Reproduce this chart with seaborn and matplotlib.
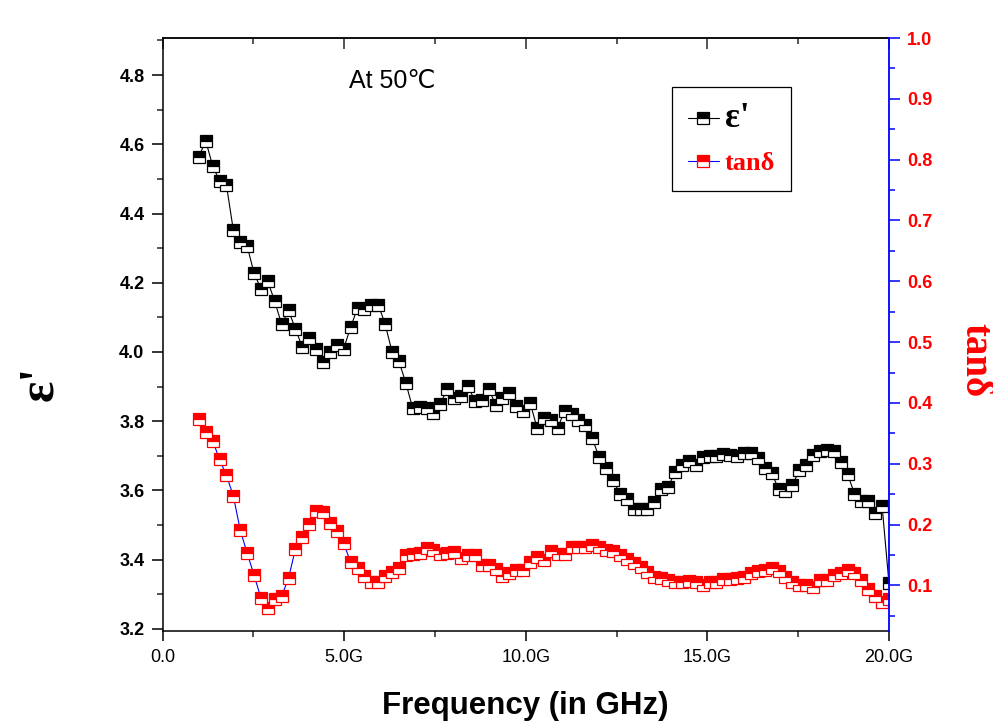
import numpy as np
import pandas as pd
import matplotlib
matplotlib.use("Agg")
import matplotlib.pyplot as plt
import seaborn as sns
from matplotlib.ticker import FixedLocator, FixedFormatter, MultipleLocator, FormatStrFormatter
from matplotlib.font_manager import FontProperties

# ---------------- data ----------------
freq = [1.00, 1.19, 1.38, 1.57, 1.76, 1.95, 2.14, 2.33, 2.52, 2.71,
        2.90, 3.09, 3.28, 3.47, 3.66, 3.85, 4.04, 4.23, 4.42, 4.61,
        4.80, 4.99, 5.18, 5.37, 5.56, 5.75, 5.94, 6.13, 6.32, 6.51,
        6.70, 6.89, 7.08, 7.27, 7.46, 7.65, 7.84, 8.03, 8.22, 8.41,
        8.60, 8.79, 8.98, 9.17, 9.36, 9.55, 9.74, 9.93, 10.12, 10.31,
        10.50, 10.69, 10.88, 11.07, 11.26, 11.45, 11.64, 11.83, 12.02, 12.21,
        12.40, 12.59, 12.78, 12.97, 13.16, 13.35, 13.54, 13.73, 13.92, 14.11,
        14.30, 14.49, 14.68, 14.87, 15.06, 15.25, 15.44, 15.63, 15.82, 16.01,
        16.20, 16.39, 16.58, 16.77, 16.96, 17.15, 17.34, 17.53, 17.72, 17.91,
        18.10, 18.29, 18.48, 18.67, 18.86, 19.05, 19.24, 19.43, 19.62, 19.81,
        20.00]

eps = [4.564, 4.610, 4.538, 4.494, 4.482, 4.352, 4.318, 4.306, 4.228, 4.182,
       4.204, 4.146, 4.080, 4.120, 4.066, 4.014, 4.040, 4.010, 3.972, 3.999,
       4.020, 4.010, 4.072, 4.127, 4.125, 4.135, 4.137, 4.080, 4.000, 3.973,
       3.910, 3.837, 3.842, 3.837, 3.825, 3.850, 3.894, 3.868, 3.873, 3.902,
       3.858, 3.860, 3.893, 3.848, 3.866, 3.881, 3.845, 3.830, 3.854, 3.781,
       3.808, 3.803, 3.781, 3.830, 3.821, 3.803, 3.789, 3.751, 3.696, 3.666,
       3.631, 3.591, 3.576, 3.547, 3.547, 3.547, 3.568, 3.603, 3.610, 3.653,
       3.673, 3.685, 3.673, 3.697, 3.699, 3.699, 3.705, 3.702, 3.699, 3.707,
       3.709, 3.693, 3.665, 3.650, 3.605, 3.597, 3.615, 3.658, 3.673, 3.702,
       3.714, 3.718, 3.714, 3.682, 3.647, 3.591, 3.570, 3.570, 3.536, 3.555,
       3.332]

tand = [0.373, 0.353, 0.338, 0.307, 0.281, 0.247, 0.191, 0.153, 0.117, 0.079,
        0.0625, 0.078, 0.082, 0.112, 0.160, 0.179, 0.201, 0.222, 0.220, 0.202,
        0.189, 0.169, 0.138, 0.128, 0.116, 0.106, 0.106, 0.115, 0.122, 0.129,
        0.150, 0.152, 0.153, 0.161, 0.158, 0.152, 0.154, 0.155, 0.145, 0.150,
        0.150, 0.133, 0.133, 0.127, 0.116, 0.121, 0.126, 0.126, 0.138, 0.146,
        0.141, 0.157, 0.152, 0.152, 0.163, 0.163, 0.163, 0.166, 0.163, 0.158,
        0.156, 0.150, 0.144, 0.136, 0.130, 0.122, 0.114, 0.112, 0.109, 0.105,
        0.105, 0.107, 0.105, 0.101, 0.106, 0.105, 0.110, 0.111, 0.112, 0.114,
        0.120, 0.123, 0.125, 0.128, 0.123, 0.114, 0.105, 0.101, 0.101, 0.098,
        0.109, 0.109, 0.117, 0.121, 0.126, 0.120, 0.109, 0.094, 0.082, 0.072,
        0.078]

xtick_vals = [0, 5, 10, 15, 20]
xtick_labels = ["0.0", "5.0G", "10.0G", "15.0G", "20.0G"]
left_ticks = [3.2, 3.4, 3.6, 3.8, 4.0, 4.2, 4.4, 4.6, 4.8]
right_ticks = [0.1, 0.2, 0.3, 0.4, 0.5, 0.6, 0.7, 0.8, 0.9, 1.0]
series_labels = ["\u03b5'", "tan\u03b4"]

# ---------------- style ----------------
sns.set_theme(style="white")
plt.rcParams['font.family'] = ['Liberation Sans', 'DejaVu Sans']
serif = ['Liberation Serif', 'DejaVu Serif']

df = pd.DataFrame({"freq": freq, "eps": eps, "tand": tand})

fig = plt.figure(figsize=(9.93, 7.27), dpi=100)
fig.patch.set_facecolor("white")
ax = fig.add_axes([0.16365, 0.13205, 0.7316, 0.81568])
ax.set_facecolor("white")

sns.lineplot(data=df, x="freq", y="eps", ax=ax, color="black", linewidth=0.8,
             marker="s", markersize=8, fillstyle="top",
             markerfacecolor="black", markerfacecoloralt="white",
             markeredgecolor="black", markeredgewidth=0.9,
             estimator=None, sort=False, legend=False)
line1 = ax.lines[0]

ax2 = ax.twinx()
sns.lineplot(data=df, x="freq", y="tand", ax=ax2, color="blue", linewidth=0.8,
             marker="s", markersize=8, fillstyle="top",
             markerfacecolor="red", markerfacecoloralt="white",
             markeredgecolor="red", markeredgewidth=0.9,
             estimator=None, sort=False, legend=False)
line2 = ax2.lines[0]

# ---------------- axes ----------------
ax.set_xlim(0, 20)
ax.set_ylim(3.194, 4.907)
ax2.set_ylim(0.025, 1.0)

for s in ["left", "bottom", "top"]:
    ax.spines[s].set_color("black")
    ax.spines[s].set_linewidth(1.1)
ax.spines["right"].set_visible(False)
for s in ["left", "bottom", "top"]:
    ax2.spines[s].set_visible(False)
ax2.spines["right"].set_color("blue")
ax2.spines["right"].set_linewidth(1.3)

ax.xaxis.set_major_locator(FixedLocator(xtick_vals))
ax.xaxis.set_major_formatter(FixedFormatter(xtick_labels))
ax.xaxis.set_minor_locator(MultipleLocator(2.5))
ax.tick_params(axis="x", which="major", direction="out", length=7, width=1.1,
               bottom=True, top=False, labelsize=13, pad=6, colors="black")
ax.tick_params(axis="x", which="minor", direction="out", length=4, width=1.1,
               bottom=True, top=False)

secax = ax.secondary_xaxis("top")
secax.xaxis.set_major_locator(FixedLocator(xtick_vals))
secax.xaxis.set_minor_locator(MultipleLocator(2.5))
secax.tick_params(axis="x", which="major", direction="in", length=8, width=1.1,
                  labeltop=False)
secax.tick_params(axis="x", which="minor", direction="in", length=4, width=1.1)
secax.spines["top"].set_linewidth(1.1)

ax.yaxis.set_major_locator(FixedLocator(left_ticks))
ax.yaxis.set_major_formatter(FormatStrFormatter("%.1f"))
ax.yaxis.set_minor_locator(MultipleLocator(0.1))
ax.tick_params(axis="y", which="major", direction="out", length=8, width=1.1,
               left=True, right=False, labelsize=13, pad=5, colors="black")
ax.tick_params(axis="y", which="minor", direction="out", length=4.5, width=1.1,
               left=True, right=False)
for t in ax.get_yticklabels():
    t.set_fontweight("bold")

ax2.yaxis.set_major_locator(FixedLocator(right_ticks))
ax2.yaxis.set_major_formatter(FormatStrFormatter("%.1f"))
ax2.yaxis.set_minor_locator(MultipleLocator(0.05))
ax2.tick_params(axis="y", which="major", direction="out", length=8, width=1.1,
                right=True, color="blue", labelcolor="red", labelsize=13, pad=5)
ax2.tick_params(axis="y", which="minor", direction="out", length=4.5, width=1.1,
                right=True, color="blue")
for t in ax2.get_yticklabels():
    t.set_fontweight("bold")

ax.set_ylabel("")
ax2.set_ylabel("")
ax.set_xlabel("Frequency (in GHz)", fontsize=22.5, fontweight="bold", labelpad=18,
              color="black")

fig.text(40 / 993, 1 - 383 / 727, "\u03b5'", rotation=90, fontsize=36,
         fontweight="bold", family=serif, ha="center", va="center", color="black")
fig.text(975 / 993, 1 - 360 / 727, "tan\u03b4", rotation=-90, fontsize=28,
         fontweight="bold", family=serif, ha="center", va="center", color="red")

ax.text(0.316, 0.9275, "At 50\u2103", transform=ax.transAxes, fontsize=18,
        ha="center", va="center", color="black",
        family=['Liberation Sans', 'DejaVu Sans'])

leg = ax2.legend([line1, line2], series_labels, loc="upper left",
                 bbox_to_anchor=(0.701, 0.918), borderaxespad=0,
                 frameon=True, fancybox=False,
                 edgecolor="black", framealpha=1, facecolor="white",
                 prop=FontProperties(family=serif, weight="bold", size=19),
                 handlelength=1.2, handletextpad=0.2, borderpad=0.6,
                 labelspacing=0.6)
leg.get_frame().set_linewidth(0.9)
texts = leg.get_texts()
texts[0].set_color("black")
texts[0].set_fontsize(25)
texts[1].set_color("red")

fig.savefig("out.png", dpi=100, facecolor="white")
